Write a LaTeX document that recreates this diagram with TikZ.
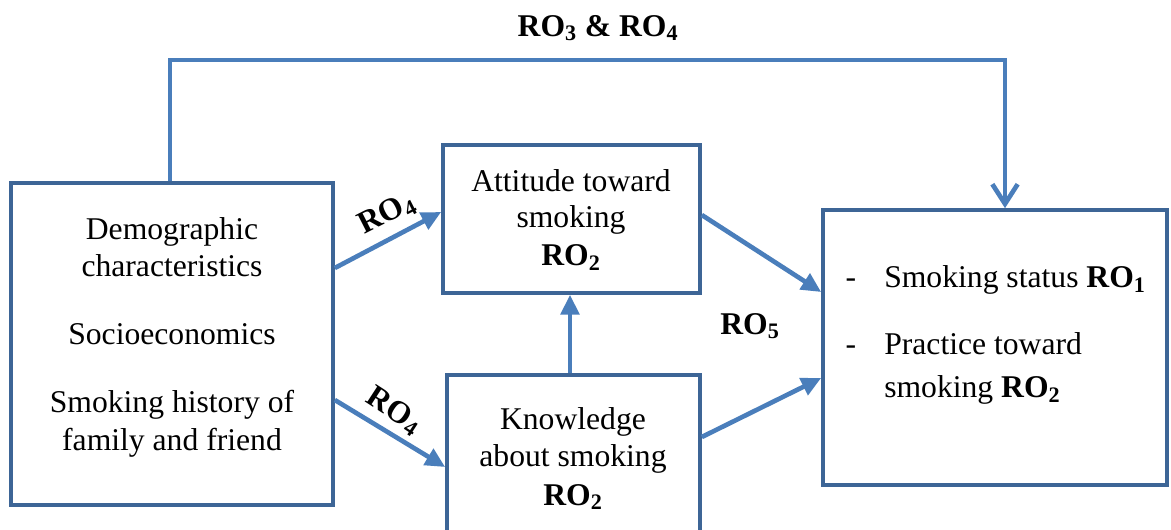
\documentclass[tikz,border=0pt]{standalone}
\usepackage{fontspec}
\setmainfont{Liberation Serif}
\usetikzlibrary{arrows.meta,fit}
\definecolor{boxblue}{HTML}{3D6596}
\definecolor{linkblue}{HTML}{4A7EBB}
\tikzset{
  box/.style={draw=boxblue, line width=2.6pt, inner sep=0pt, fill=none},
  txt/.style={anchor=base, inner sep=0pt, font=\fontsize{22.5}{27}\selectfont},
  lbl/.style={inner sep=0pt, font=\fontsize{22.5}{27}\selectfont\bfseries},
  link/.style={draw=linkblue, line width=3.3pt,
    -{Triangle[length=14pt,width=13pt]}},
  openlink/.style={draw=linkblue, line width=3.3pt,
    -{Straight Barb[length=14pt,width=18pt,line width=3.3pt]}},
}
\newcommand{\ro}[1]{RO\textsubscript{#1}}
\begin{document}
\begin{tikzpicture}[x=0.025cm, y=-0.025cm]
\useasboundingbox (0,0) rectangle (1171,530);

% boxes
\node[box, fit={(11,183) (333,505)}] (demo) {};
\node[box, fit={(443,145) (700,293)}] (att) {};
\node[box, fit={(447,375) (700,540)}] (know) {};
\node[box, fit={(823,210) (1167,485)}] (outc) {};

% text of the factor box
\node[txt] (d1) at (172,240) {Demographic};
\node[txt] (d2) at (172,277) {characteristics};
\node[txt] (d3) at (172,345) {Socioeconomics};
\node[txt] (d4) at (172,413) {Smoking history of};
\node[txt] (d5) at (172,451) {family and friend};

% attitude box
\node[txt] (a1) at (571,192) {Attitude toward};
\node[txt] (a2) at (571,228) {smoking};
\node[txt] (a3) at (571,266) {\textbf{\ro{2}}};

% knowledge box
\node[txt] (k1) at (573,430) {Knowledge};
\node[txt] (k2) at (573,467) {about smoking};
\node[txt] (k3) at (573,505) {\textbf{\ro{2}}};

% outcome box
\node[txt] (o1) at (851,288) {-};
\node[txt, anchor=base west] (o2) at (884,288) {Smoking status \textbf{\ro{1}}};
\node[txt] (o3) at (851,355) {-};
\node[txt, anchor=base west] (o4) at (884,355) {Practice toward};
\node[txt, anchor=base west] (o5) at (884,398) {smoking \textbf{\ro{2}}};

% connectors
\coordinate (bend1) at (170,60);
\draw[openlink] (demo.north -| bend1) -- (bend1) -| (1005,0 |- outc.north);
\draw[link] (333,268 -| demo.east) -- (443,212 -| att.west);
\draw[link] (333,400 -| demo.east) -- (443,467 -| know.west);
\draw[link] (570,0 |- know.north) -- (570,0 |- att.south);
\draw[link] (700,215 -| att.east) -- (823,292 -| outc.west);
\draw[link] (700,437 -| know.east) -- (823,378 -| outc.west);

% labels
\node[lbl] (r34) at (598,28) {\ro{3} \& \ro{4}};
\node[lbl, rotate=27] (r4a) at (387,214) {\ro{4}};
\node[lbl, rotate=-33] (r4b) at (394,411) {\ro{4}};
\node[lbl] (r5) at (750,326) {\ro{5}};
\end{tikzpicture}
\end{document}
